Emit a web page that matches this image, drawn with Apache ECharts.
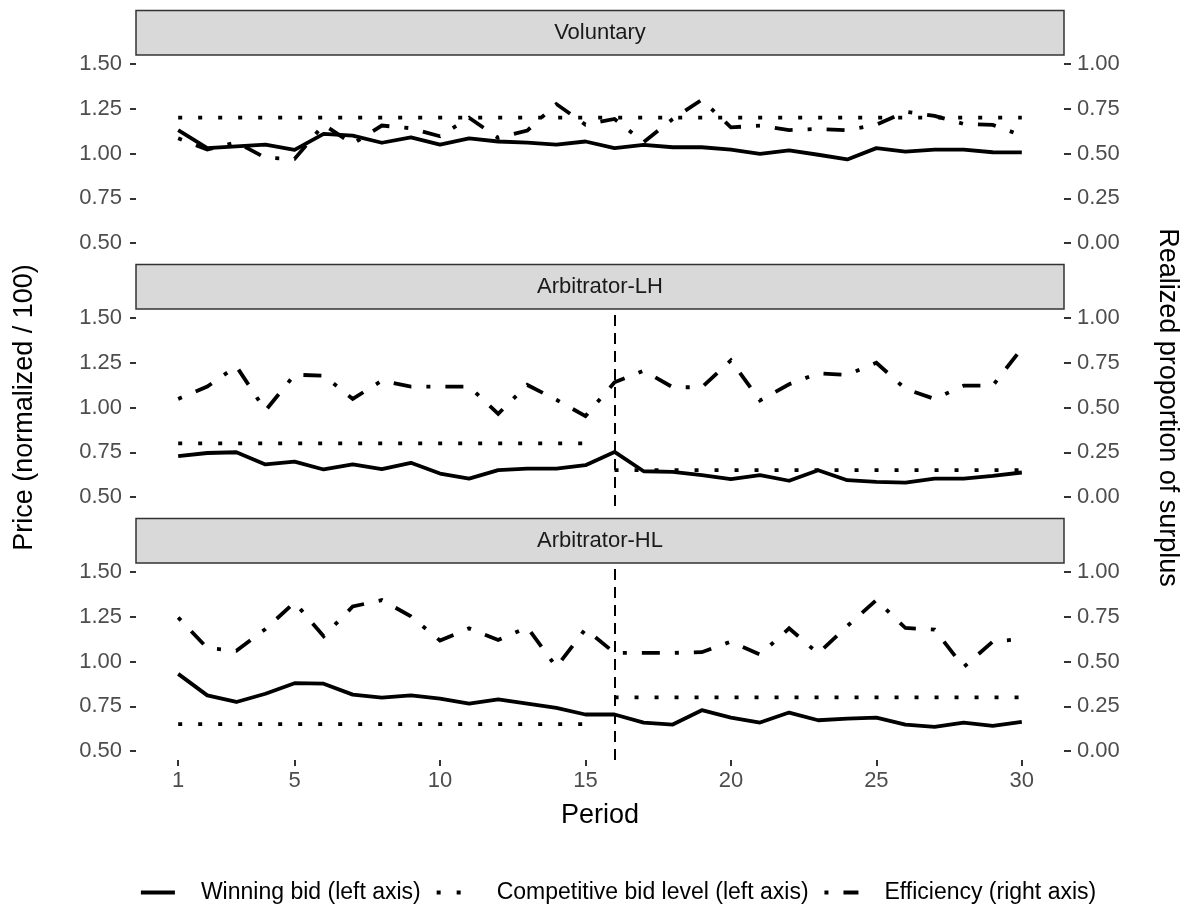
<!DOCTYPE html>
<html><head><meta charset="utf-8">
<script src="https://cdn.jsdelivr.net/npm/echarts@6/dist/echarts.min.js"></script>
<style>html,body{margin:0;padding:0;background:#fff}#c{width:1200px;height:911px}</style>
</head><body><div id="c"></div>
<script>
// ---------------- data ----------------
const periods = [1,2,3,4,5,6,7,8,9,10,11,12,13,14,15,16,17,18,19,20,21,22,23,24,25,26,27,28,29,30];
const panelNames = ['Voluntary', 'Arbitrator-LH', 'Arbitrator-HL'];
const seriesNames = ['Winning bid (left axis)', 'Competitive bid level (left axis)', 'Efficiency (right axis)'];

const volWin  = [1.13,1.03,1.04,1.05,1.02,1.11,1.10,1.06,1.09,1.05,1.085,1.067,1.061,1.05,1.067,1.03,1.048,1.035,1.035,1.022,0.998,1.017,0.993,0.967,1.03,1.011,1.022,1.022,1.007,1.006];
const volComp = [1.2,1.2,1.2,1.2,1.2,1.2,1.2,1.2,1.2,1.2,1.2,1.2,1.2,1.2,1.2,1.2,1.2,1.2,1.2,1.2,1.2,1.2,1.2,1.2,1.2,1.2,1.2,1.2,1.2,1.2];
const volEff  = [0.585,0.522,0.563,0.476,0.47,0.661,0.554,0.656,0.641,0.596,0.70,0.587,0.628,0.776,0.661,0.693,0.563,0.693,0.80,0.646,0.656,0.631,0.637,0.63,0.661,0.733,0.71,0.665,0.66,0.60];

const lhWin  = [0.728,0.746,0.75,0.682,0.698,0.654,0.682,0.656,0.691,0.631,0.603,0.65,0.659,0.659,0.678,0.752,0.644,0.641,0.622,0.60,0.622,0.591,0.65,0.594,0.585,0.58,0.603,0.603,0.618,0.637];
const lhComp = [0.8,0.8,0.8,0.8,0.8,0.8,0.8,0.8,0.8,0.8,0.8,0.8,0.8,0.8,0.8,0.65,0.65,0.65,0.65,0.65,0.65,0.65,0.65,0.65,0.65,0.65,0.65,0.65,0.65,0.65];
const lhEff  = [0.548,0.617,0.73,0.483,0.683,0.678,0.548,0.65,0.617,0.617,0.617,0.465,0.626,0.543,0.452,0.641,0.706,0.613,0.613,0.763,0.539,0.63,0.691,0.682,0.75,0.604,0.548,0.622,0.622,0.83];

const hlWin  = [0.931,0.811,0.774,0.82,0.879,0.876,0.815,0.798,0.811,0.793,0.765,0.789,0.765,0.741,0.704,0.704,0.659,0.648,0.728,0.687,0.659,0.715,0.672,0.681,0.687,0.648,0.635,0.659,0.641,0.663];
const hlComp = [0.65,0.65,0.65,0.65,0.65,0.65,0.65,0.65,0.65,0.65,0.65,0.65,0.65,0.65,0.65,0.8,0.8,0.8,0.8,0.8,0.8,0.8,0.8,0.8,0.8,0.8,0.8,0.8,0.8,0.8];
const hlEff  = [0.746,0.575,0.56,0.681,0.83,0.641,0.807,0.843,0.752,0.617,0.685,0.62,0.691,0.469,0.681,0.548,0.548,0.548,0.552,0.611,0.539,0.685,0.545,0.698,0.843,0.687,0.678,0.469,0.611,0.626];

const regimeChange = [null, 16, 16];   // period of the vertical dashed marker
const leftTicks  = [0.5, 0.75, 1.0, 1.25, 1.5];
const rightTicks = [0, 0.25, 0.5, 0.75, 1.0];
const xTicks     = [1, 5, 10, 15, 20, 25, 30];

// ---------------- layout / style ----------------
const FONT = "'Liberation Sans', Arial, sans-serif";
const LEFT = 136, RIGHT = 136, GRID_H = 197;
const GRID_TOP = [55, 309, 563];
const STRIP_H = 44.5;
const LW = 3.8;

const winData  = [volWin, lhWin, hlWin];
const compData = [volComp, lhComp, hlComp];
const effData  = [volEff, lhEff, hlEff];

function pairs(vals) { return periods.map((p, i) => [p, vals[i]]); }
function stepPairs(vals) {
  const out = [];
  periods.forEach((p, i) => {
    if (i > 0 && vals[i] !== vals[i - 1]) out.push([p - 0.5, null]);
    out.push([p, vals[i]]);
  });
  return out;
}

const grids = [], xAxes = [], yAxes = [], series = [], graphics = [];
const tickLabel = { color: '#4D4D4D', fontFamily: FONT, fontSize: 22 };

for (let k = 0; k < 3; k++) {
  grids.push({ left: LEFT, right: RIGHT, top: GRID_TOP[k], height: GRID_H, containLabel: false });
  const bottom = k === 2;
  xAxes.push({
    type: 'value', gridIndex: k, min: -0.45, max: 31.45,
    axisLine: { show: false, onZero: false }, splitLine: { show: false },
    axisTick: { show: bottom, length: 6, lineStyle: { color: '#333', width: 2 }, customValues: xTicks },
    axisLabel: Object.assign({ show: bottom, margin: 10, customValues: xTicks }, tickLabel),
    name: bottom ? 'Period' : '', nameLocation: 'middle', nameGap: 42,
    nameTextStyle: { color: '#000', fontFamily: FONT, fontSize: 27 }
  });
  yAxes.push({
    type: 'value', gridIndex: k, position: 'left', min: 0.45, max: 1.55,
    axisLine: { show: false, onZero: false }, splitLine: { show: false },
    axisTick: { show: true, length: 6, lineStyle: { color: '#333', width: 2 }, customValues: leftTicks },
    axisLabel: Object.assign({ margin: 14, customValues: leftTicks, formatter: v => v.toFixed(2) }, tickLabel),
    name: k === 1 ? 'Price (normalized / 100)' : '', nameLocation: 'middle', nameGap: 98,
    nameTextStyle: { color: '#000', fontFamily: FONT, fontSize: 27 }
  });
  yAxes.push({
    type: 'value', gridIndex: k, position: 'right', min: -0.05, max: 1.05,
    axisLine: { show: false, onZero: false }, splitLine: { show: false },
    axisTick: { show: true, length: 7, lineStyle: { color: '#333', width: 2 }, customValues: rightTicks },
    axisLabel: Object.assign({ margin: 13, customValues: rightTicks, formatter: v => v.toFixed(2) }, tickLabel),
    name: k === 1 ? 'Realized proportion of surplus' : '', nameLocation: 'middle', nameGap: 90, nameRotate: -90,
    nameTextStyle: { color: '#000', fontFamily: FONT, fontSize: 27 }
  });

  const common = { type: 'line', xAxisIndex: k, symbol: 'none', silent: true, animation: false, connectNulls: false };
  const win = Object.assign({}, common, {
    name: seriesNames[0], yAxisIndex: 2 * k, data: pairs(winData[k]),
    lineStyle: { color: '#000', width: LW, type: 'solid', cap: 'butt', join: 'round' }, itemStyle: { color: '#000' }
  });
  if (regimeChange[k] !== null) {
    win.markLine = {
      silent: true, symbol: ['none', 'none'], label: { show: false },
      lineStyle: { color: '#000', width: 2, type: [11, 7] },
      data: [{ xAxis: regimeChange[k] }]
    };
  }
  series.push(win);
  series.push(Object.assign({}, common, {
    name: seriesNames[1], yAxisIndex: 2 * k, data: stepPairs(compData[k]),
    lineStyle: { color: '#000', width: LW, type: [4, 16], cap: 'butt' }, itemStyle: { color: '#000' }
  }));
  series.push(Object.assign({}, common, {
    name: seriesNames[2], yAxisIndex: 2 * k + 1, data: pairs(effData[k]),
    lineStyle: { color: '#000', width: LW, type: [4, 15, 18, 15], cap: 'butt', join: 'miter' }, itemStyle: { color: '#000' }
  }));

  // facet strip
  graphics.push({
    type: 'rect', silent: true,
    shape: { x: LEFT, y: GRID_TOP[k] - STRIP_H, width: 1200 - LEFT - RIGHT, height: STRIP_H },
    style: { fill: '#D9D9D9', stroke: '#333', lineWidth: 1.5 }
  });
  graphics.push({
    type: 'text', silent: true, x: 600, y: GRID_TOP[k] - STRIP_H / 2,
    style: { text: panelNames[k], fill: '#1A1A1A', font: "22px " + FONT, align: 'center', verticalAlign: 'middle' }
  });
}

const chart = echarts.init(document.getElementById('c'), null, { renderer: 'canvas' });
chart.setOption({
  animation: false,
  backgroundColor: '#fff',
  grid: grids, xAxis: xAxes, yAxis: yAxes, series: series,
  graphic: graphics,
  legend: {
    data: seriesNames, left: 139, top: 881, orient: 'horizontal', padding: 0,
    itemWidth: 34, itemHeight: 18, itemGap: 14,
    lineStyle: { width: LW },
    itemStyle: { color: 'rgba(0,0,0,0)', opacity: 0, borderWidth: 0 },
    textStyle: { color: '#000', fontFamily: FONT, fontSize: 23, padding: [0, 0, 0, 21] },
    selectedMode: false
  }
});
</script></body></html>
